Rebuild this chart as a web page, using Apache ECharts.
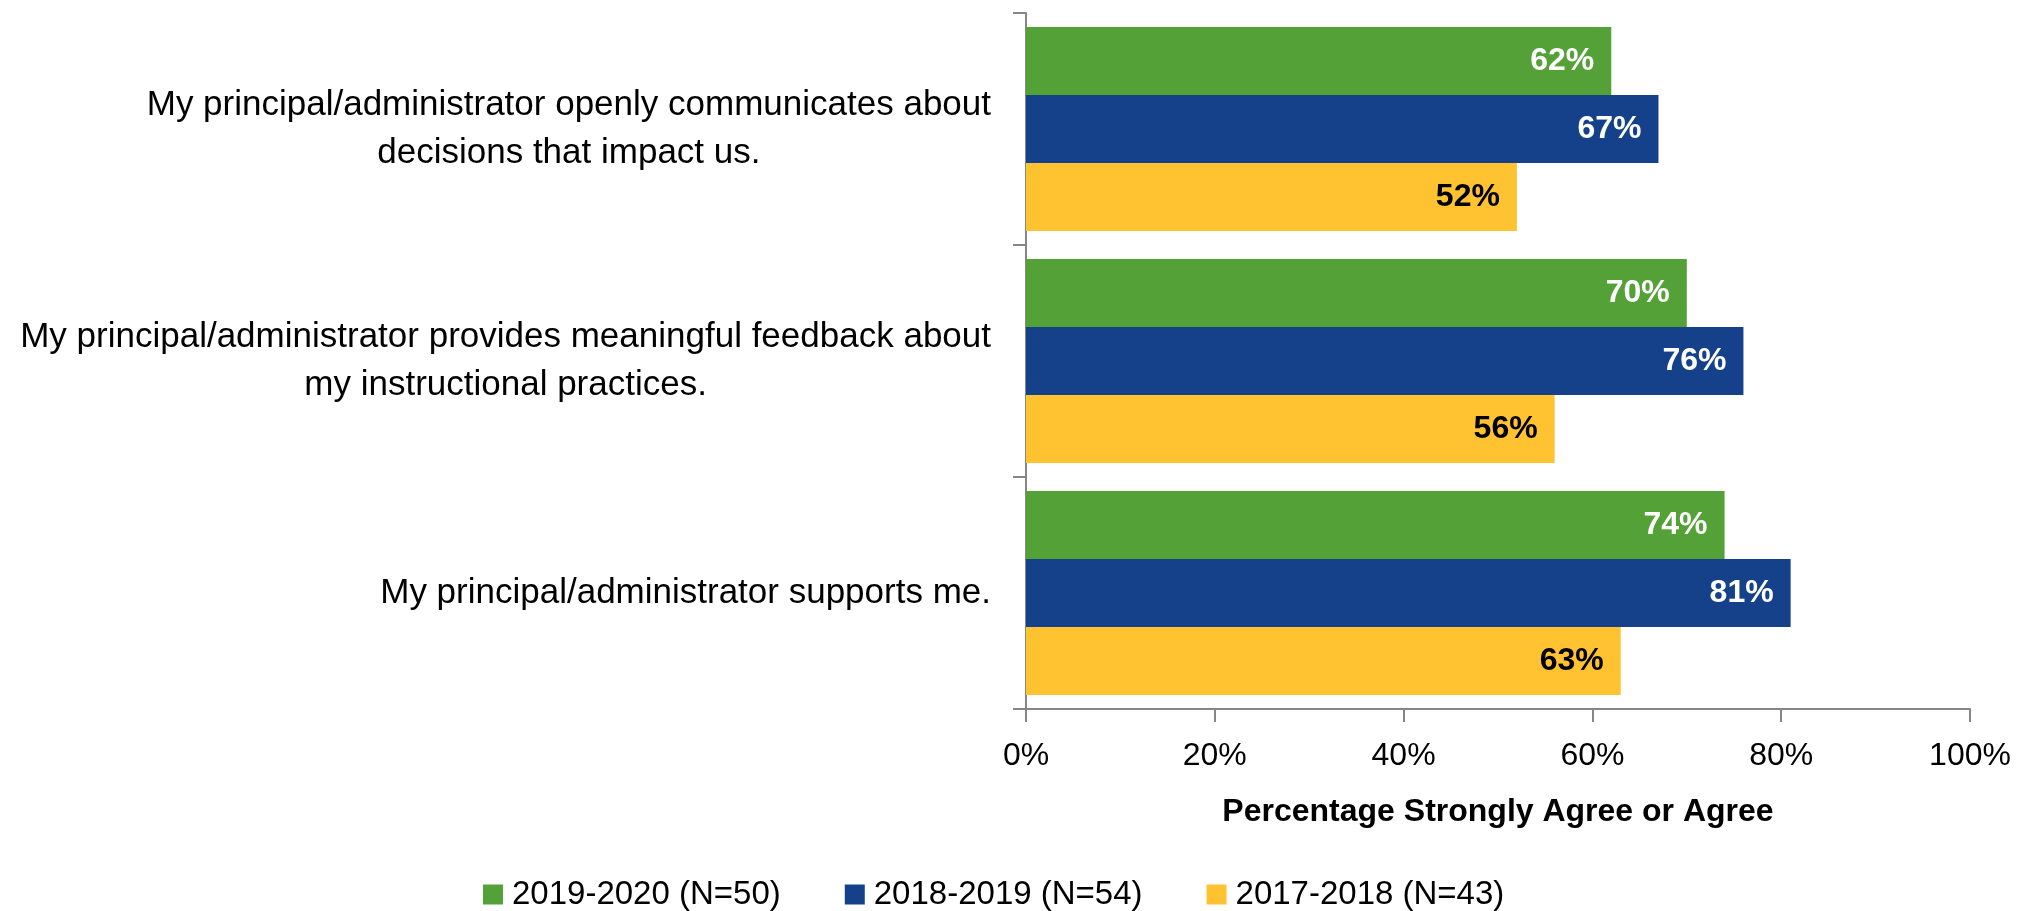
<!DOCTYPE html>
<html>
<head>
<meta charset="utf-8">
<script src="https://cdn.jsdelivr.net/npm/echarts@6/dist/echarts.min.js"></script>
<style>
html,body{margin:0;padding:0;background:#fff;}
#chart{width:2030px;height:911px;}
</style>
</head>
<body>
<div id="chart"></div>
<script>
const categories = [
  "My principal/administrator openly communicates about\ndecisions that impact us.",
  "My principal/administrator provides meaningful feedback about\nmy instructional practices.",
  "My principal/administrator supports me."
];
const seriesNames = ["2019-2020 (N=50)", "2018-2019 (N=54)", "2017-2018 (N=43)"];
const values2019_2020 = [62, 70, 74];
const values2018_2019 = [67, 76, 81];
const values2017_2018 = [52, 56, 63];
const xTicks = [0, 20, 40, 60, 80, 100];
const axisTitle = "Percentage Strongly Agree or Agree";

const colors = ["#54A137", "#144189", "#FFC230"];
const labelColors = ["#ffffff", "#ffffff", "#000000"];
const FONT = "'Liberation Sans', Arial, sans-serif";

const chart = echarts.init(document.getElementById('chart'), null, {renderer: 'canvas'});

function mkSeries(name, data, i) {
  return {
    name: name,
    type: 'bar',
    data: data,
    barGap: '0%',
    barCategoryGap: '12%',
    itemStyle: {color: colors[i]},
    label: {
      show: true,
      position: 'insideRight',
      distance: 17,
      formatter: p => p.value + '%',
      color: labelColors[i],
      fontFamily: FONT,
      fontWeight: 'bold',
      fontSize: 32
    },
    emphasis: {disabled: true},
    animation: false
  };
}

const option = {
  animation: false,
  textStyle: {fontFamily: FONT},
  grid: {left: 1026, right: 60, top: 13, bottom: 202, containLabel: false},
  legend: {
    left: 478,
    top: 873,
    itemWidth: 20,
    itemHeight: 20,
    itemGap: 64,
    icon: 'rect',
    textStyle: {fontFamily: FONT, fontSize: 33, color: '#000', padding: [0,0,0,4]},
    data: seriesNames
  },
  xAxis: {
    type: 'value',
    min: xTicks[0],
    max: xTicks[xTicks.length - 1],
    interval: 20,
    splitLine: {show: false},
    axisLine: {show: true, lineStyle: {color: '#868686', width: 2}},
    axisTick: {show: true, length: 13, lineStyle: {color: '#868686', width: 2}},
    axisLabel: {
      formatter: v => v + '%',
      fontFamily: FONT, fontSize: 32, color: '#000', margin: 31
    },
    name: axisTitle,
    nameLocation: 'middle',
    nameGap: 87,
    nameTextStyle: {fontFamily: FONT, fontSize: 32, fontWeight: 'bold', color: '#000'}
  },
  yAxis: {
    type: 'category',
    inverse: true,
    data: categories,
    axisLine: {show: true, lineStyle: {color: '#868686', width: 2}},
    axisTick: {show: true, length: 13, lineStyle: {color: '#868686', width: 2}},
    axisLabel: {
      margin: 35,
      align: 'right',
      fontFamily: FONT,
      fontSize: 35,
      color: '#000',
      formatter: v => v.split('\n').map(l => '{c|' + l + '}').join('\n'),
      rich: {c: {align: 'center', fontFamily: FONT, fontSize: 35, lineHeight: 48, color: '#000'}}
    }
  },
  series: [
    mkSeries(seriesNames[0], values2019_2020, 0),
    mkSeries(seriesNames[1], values2018_2019, 1),
    mkSeries(seriesNames[2], values2017_2018, 2)
  ]
};
chart.setOption(option);
</script>
</body>
</html>
